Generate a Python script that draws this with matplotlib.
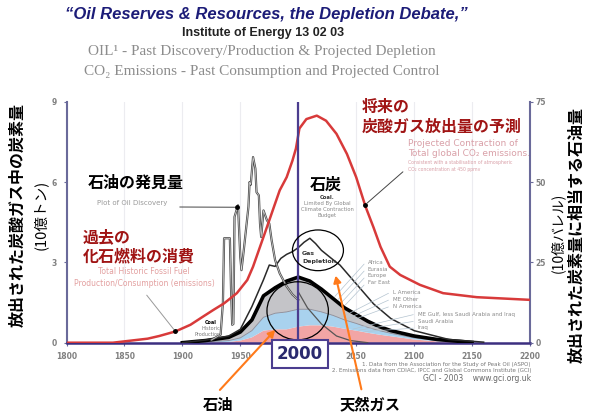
import numpy as np
import matplotlib
matplotlib.use('Agg')
import matplotlib.pyplot as plt
from matplotlib.patches import Ellipse, FancyArrowPatch

JP = ['Noto Sans CJK JP', 'DejaVu Sans']
W, H = 592, 415

# ---------------------------------------------------------------
# DATA (left axis = 10^9 t carbon)
# ---------------------------------------------------------------
co2_years = [1800, 1840, 1850, 1870, 1880, 1894, 1907, 1918, 1927, 1936, 1947,
             1956, 1961, 1967, 1973, 1979, 1984, 1990, 1995, 1998, 2001, 2007,
             2016, 2024, 2033, 2042, 2050, 2058, 2065, 2071, 2079, 2088, 2105,
             2125, 2154, 2200]
co2_vals = [0.0, 0.0, 0.05, 0.15, 0.25, 0.42, 0.67, 0.98, 1.23, 1.47, 1.85,
            2.34, 2.84, 3.58, 4.32, 5.07, 5.69, 6.18, 6.8, 7.25, 8.0, 8.35,
            8.48, 8.29, 7.8, 7.05, 6.18, 5.09, 4.3, 3.58, 2.84, 2.53, 2.16,
            1.85, 1.7, 1.6]

disc_years = [1925, 1933, 1935, 1936, 1941, 1942, 1943, 1944, 1945, 1948, 1950,
              1951, 1953, 1957, 1958, 1959, 1961, 1963, 1964, 1966, 1967, 1968,
              1970, 1973, 1975, 1977, 1980, 1984, 1990, 1995, 2000]
disc_vals = [0.1, 0.3, 1.5, 3.9, 3.9, 2.0, 0.67, 0.7, 4.7, 5.13, 3.2,
             2.71, 3.46, 5.07, 6.0, 5.9, 6.93, 6.5, 5.62, 5.5, 4.45, 3.95,
             4.94, 4.57, 4.45, 3.83, 3.09, 2.59, 2.1, 1.8, 1.6]

prod_years = [1900, 1920, 1940, 1950, 1960, 1970, 1980, 1990, 2000, 2010,
              2020, 2030, 2040, 2050, 2060, 2070, 2080, 2100, 2120, 2150]
oil_me = [0, 0.01, 0.03, 0.08, 0.2, 0.45, 0.5, 0.5, 0.6, 0.65,
          0.65, 0.6, 0.52, 0.45, 0.37, 0.3, 0.24, 0.12, 0.05, 0]
oil_am = [0, 0.02, 0.05, 0.1, 0.25, 0.5, 0.6, 0.65, 0.65, 0.6,
          0.5, 0.42, 0.33, 0.27, 0.2, 0.15, 0.11, 0.06, 0.03, 0]
oil_rest = [0, 0.05, 0.12, 0.22, 0.4, 0.8, 0.95, 1.15, 1.2, 1.05,
            0.85, 0.63, 0.45, 0.33, 0.23, 0.15, 0.1, 0.07, 0.04, 0.01]

gas_years = [1900, 1920, 1940, 1950, 1960, 1970, 1975, 1980, 1985, 1990, 1995,
             2000, 2005, 2010, 2015, 2020, 2030, 2036, 2050, 2065, 2080, 2100,
             2130, 2160]
gas_vals = [0, 0.1, 0.25, 0.5, 1.35, 2.35, 2.9, 2.85, 3.15, 3.3, 3.4,
            3.55, 3.75, 3.9, 3.7, 3.45, 3.1, 2.9, 2.2, 1.45, 0.9, 0.45,
            0.12, 0.02]

dep_years = [2000, 2008, 2020, 2033, 2045, 2060]
dep_vals = [1.9, 1.3, 0.7, 0.25, 0.08, 0.0]

xticks = [1800, 1850, 1900, 1950, 2000, 2050, 2100, 2150, 2200]
xtick_labels = ['1800', '1850', '1900', '1950', '', '2050', '2100', '2150', '2200']
left_ticks = [0, 3, 6, 9]
right_ticks = [0, 25, 50, 75]

regions_top = ['Africa', 'Eurasia', 'Europe', 'Far East']
regions_mid = ['L America', 'ME Other', 'N America']
regions_low = ['ME Gulf, less Saudi Arabia and Iraq', 'Saudi Arabia', 'Iraq']


def pix(x, y):
    return x / W, 1 - y / H


# ---------------------------------------------------------------
# FIGURE
# ---------------------------------------------------------------
fig = plt.figure(figsize=(W / 100, H / 100), dpi=100)
ax = fig.add_axes([66.5 / W, 1 - 342.7 / H, 463.5 / W, 241 / H])
ax.set_xlim(1800, 2200)
ax.set_ylim(0, 9)

for xt in xticks:
    ax.axvline(xt, color='#ececf0', lw=0.8, zorder=0)

# stacked oil production
ax.stackplot(prod_years, oil_me, oil_am, oil_rest,
             colors=['#f2a5a5', '#a9d2ee', '#c4c4c8'], lw=0, zorder=2)
cum1 = np.array(oil_me)
cum2 = cum1 + np.array(oil_am)
total = cum2 + np.array(oil_rest)
ax.plot(prod_years, cum2, color='#8a8a96', lw=0.6, zorder=3)
ax.plot(prod_years, total, color='black', lw=2.6, zorder=4)
ax.plot(gas_years, gas_vals, color='#2a2a2a', lw=1.1, zorder=4)
ax.plot(dep_years, dep_vals, color='#555555', lw=0.9, zorder=4)

# discovery + emissions
ax.plot(disc_years, disc_vals, color='#4a4a4a', lw=1.6, zorder=5)
ax.plot(disc_years, disc_vals, color='#d8d8d8', lw=0.5, zorder=5)
ax.plot(co2_years, co2_vals, color='#d83a3a', lw=1.8, zorder=6)

ax.axvline(2000, color='#4b3d8f', lw=1.6, zorder=7)

# circles
ax.add_patch(Ellipse((2017, 3.45), 44, 1.52, fill=False, ec='black', lw=0.9, zorder=8))
ax.add_patch(Ellipse((1999.5, 1.19), 53, 2.17, fill=False, ec='black', lw=0.9, zorder=8))

# axes styling
ax.spines['top'].set_visible(False)
ax.spines['left'].set_color('#6a6a9a')
ax.spines['left'].set_linewidth(1.5)
ax.spines['right'].set_color('#6a6a9a')
ax.spines['right'].set_linewidth(1.5)
ax.spines['bottom'].set_color('#3c2f80')
ax.spines['bottom'].set_linewidth(1.8)
ax.set_xticks(xticks)
ax.set_xticklabels(xtick_labels)
ax.set_yticks(left_ticks)
ax.tick_params(axis='both', labelsize=5.5, labelcolor='#808080', length=2,
               color='#6a6a9a', pad=5)
for lab in ax.get_xticklabels() + ax.get_yticklabels():
    lab.set_fontweight('bold')

ax2 = ax.twinx()
ax2.set_ylim(0, 75)
ax2.set_yticks(right_ticks)
ax2.tick_params(axis='y', labelsize=5.5, labelcolor='#808080', length=2,
                color='#6a6a9a', pad=2)
for lab in ax2.get_yticklabels():
    lab.set_fontweight('bold')
for s in ax2.spines.values():
    s.set_visible(False)

# ---------------------------------------------------------------
# TITLES
# ---------------------------------------------------------------
fig.text(*pix(266, 15), '\u201cOil Reserves & Resources, the Depletion Debate,\u201d',
         ha='center', va='center', fontsize=12, fontweight='bold', style='italic',
         color='#1c1c78', family='Liberation Sans')
fig.text(*pix(263, 33), 'Institute of Energy 13 02 03', ha='center', va='center',
         fontsize=9, fontweight='bold', color='#222222', family='Liberation Sans')
fig.text(*pix(262, 52), 'OIL\u00b9 - Past Discovery/Production & Projected Depletion',
         ha='center', va='center', fontsize=11, color='#8c8c8c', family='Liberation Serif')
fig.text(*pix(262, 72), 'CO\u2082 Emissions - Past Consumption and Projected Control',
         ha='center', va='center', fontsize=11, color='#8c8c8c', family='Liberation Serif')

# axis labels
fig.text(*pix(18, 215), '放出された炭酸ガス中の炭素量', rotation=90, ha='center',
         va='center', fontsize=11.5, fontweight='bold', family=JP)
fig.text(*pix(40, 215), '(10億トン)', rotation=90, ha='center', va='center',
         fontsize=10.5, family=JP)
fig.text(*pix(576, 235), '放出された炭素量に相当する石油量', rotation=90, ha='center',
         va='center', fontsize=11.5, fontweight='bold', family=JP)
fig.text(*pix(558, 233), '(10億バレル)', rotation=90, ha='center', va='center',
         fontsize=10, family=JP)

# ---------------------------------------------------------------
# ANNOTATIONS
# ---------------------------------------------------------------
fig.text(*pix(88, 183), '石油の発見量', ha='left', va='center', fontsize=11.5,
         fontweight='bold', family=JP)
fig.text(*pix(132, 203), 'Plot of Oil Discovery', ha='center', va='center',
         fontsize=5, color='#9a9a9a')
d_yr = 1947.5
ax.annotate('', xy=(d_yr, np.interp(d_yr, disc_years, disc_vals)), xycoords='data',
            xytext=pix(177, 207), textcoords='figure fraction',
            arrowprops=dict(arrowstyle='-', color='#444444', lw=0.7), zorder=9)
ax.plot(d_yr, np.interp(d_yr, disc_years, disc_vals), 'o', color='black', ms=2.5, zorder=9)

fig.text(*pix(83, 237), '過去の', ha='left', va='center', fontsize=11.5,
         fontweight='bold', color='#a01414', family=JP)
fig.text(*pix(83, 256), '化石燃料の消費', ha='left', va='center', fontsize=11.5,
         fontweight='bold', color='#a01414', family=JP)
fig.text(*pix(144, 271), 'Total Historic Fossil Fuel', ha='center', va='center',
         fontsize=5.5, color='#e3a0a0')
fig.text(*pix(144, 283), 'Production/Consumption (emissions)', ha='center',
         va='center', fontsize=5.5, color='#e3a0a0')
h_yr = 1894
ax.annotate('', xy=(h_yr, np.interp(h_yr, co2_years, co2_vals)), xycoords='data',
            xytext=pix(145, 293), textcoords='figure fraction',
            arrowprops=dict(arrowstyle='-', color='#999999', lw=0.7), zorder=9)
ax.plot(h_yr, np.interp(h_yr, co2_years, co2_vals), 'o', color='black', ms=2.5, zorder=9)

fig.text(*pix(211, 322), 'Coal', ha='center', va='center', fontsize=3.5,
         fontweight='bold')
fig.text(*pix(211, 328), 'Historic', ha='center', va='center', fontsize=3.5,
         color='#777777')
fig.text(*pix(208, 334), 'Production', ha='center', va='center', fontsize=3.5,
         color='#777777')

fig.text(*pix(362, 107), '将来の', ha='left', va='center', fontsize=11.5,
         fontweight='bold', color='#a01414', family=JP)
fig.text(*pix(362, 127), '炭酸ガス放出量の予測', ha='left', va='center', fontsize=11.5,
         fontweight='bold', color='#a01414', family=JP)
fig.text(*pix(408, 143), 'Projected Contraction of', ha='left', va='center',
         fontsize=6.5, color='#d9a0a8')
fig.text(*pix(408, 153), 'Total global CO\u2082 emissions.', ha='left', va='center',
         fontsize=6.5, color='#d9a0a8')
fig.text(*pix(408, 162), 'Consistent with a stabilisation of atmospheric',
         ha='left', va='center', fontsize=3.3, color='#d9a0a8')
fig.text(*pix(408, 169), 'CO\u2082 concentration at 450 ppmv', ha='left', va='center',
         fontsize=3.3, color='#d9a0a8')
p_yr = 2057.6
ax.annotate('', xy=(p_yr, np.interp(p_yr, co2_years, co2_vals)), xycoords='data',
            xytext=pix(405, 170), textcoords='figure fraction',
            arrowprops=dict(arrowstyle='-', color='#444444', lw=0.7), zorder=9)
ax.plot(p_yr, np.interp(p_yr, co2_years, co2_vals), 'o', color='black', ms=2.5, zorder=9)

fig.text(*pix(326, 185), '石炭', ha='center', va='center', fontsize=11.5,
         fontweight='bold', family=JP)
fig.text(*pix(327, 197), 'Coal.', ha='center', va='center', fontsize=3.8,
         fontweight='bold', color='#333333')
for i, line in enumerate(['Limited By Global', 'Climate Contraction', 'Budget']):
    fig.text(*pix(327, 203 + 6 * i), line, ha='center', va='center', fontsize=3.8,
             color='#888888')

fig.text(*pix(302, 253), 'Gas', ha='left', va='center', fontsize=4.5,
         fontweight='bold', color='#333333')
fig.text(*pix(302, 261), 'Depletion', ha='left', va='center', fontsize=4.5,
         fontweight='bold', color='#333333')

# region labels with leader lines
for i, name in enumerate(regions_top):
    y = 262 + 7 * i
    fig.text(*pix(368, y), name, ha='left', va='center', fontsize=4, color='#8a8a8a')
    yr = 2030 + 3 * i
    ax.annotate('', xy=(yr, np.interp(yr, prod_years, total)), xycoords='data',
                xytext=pix(366, y), textcoords='figure fraction',
                arrowprops=dict(arrowstyle='-', color='#b4c4d0', lw=0.5), zorder=9)
for i, name in enumerate(regions_mid):
    y = 292 + 7 * i
    fig.text(*pix(393, y), name, ha='left', va='center', fontsize=4, color='#8a8a8a')
    yr = 2036 + 4 * i
    ax.annotate('', xy=(yr, np.interp(yr, prod_years, cum2)), xycoords='data',
                xytext=pix(391, y), textcoords='figure fraction',
                arrowprops=dict(arrowstyle='-', color='#b4c4d0', lw=0.5), zorder=9)
for i, name in enumerate(regions_low):
    y = 314 + 7 * i
    fig.text(*pix(418, y), name, ha='left', va='center', fontsize=4, color='#8a8a8a')
    yr = 2045 + 5 * i
    ax.annotate('', xy=(yr, np.interp(yr, prod_years, cum1)), xycoords='data',
                xytext=pix(416, y), textcoords='figure fraction',
                arrowprops=dict(arrowstyle='-', color='#b4c4d0', lw=0.5), zorder=9)

# 2000 box
fig.text(*pix(300, 354), '2000', ha='center', va='center', fontsize=12,
         fontweight='bold', color='#2a2a6e',
         bbox=dict(boxstyle='square,pad=0.3', fc='white', ec='#4b3d8f', lw=1.5))

# footnotes
fig.text(*pix(531, 364), '1. Data from the Association for the Study of Peak Oil (ASPO)',
         ha='right', va='center', fontsize=4, color='#777777')
fig.text(*pix(531, 370), '2. Emissions data from CDIAC, IPCC and Global Commons Institute (GCI)',
         ha='right', va='center', fontsize=4, color='#777777')
fig.text(*pix(531, 378), 'GCI - 2003    www.gci.org.uk', ha='right', va='center',
         fontsize=5.5, color='#666666')

# orange pointers
fig.text(*pix(218, 405), '石油', ha='center', va='center', fontsize=11,
         fontweight='bold', family=JP)
fig.text(*pix(370, 405), '天然ガス', ha='center', va='center', fontsize=11,
         fontweight='bold', family=JP)
fig.add_artist(FancyArrowPatch(
    pix(218, 392), pix(277, 328), transform=fig.transFigure,
    arrowstyle='-|>,head_length=4,head_width=2.2', color='#ff7a1a', lw=1.5))
fig.add_artist(FancyArrowPatch(
    pix(362, 392), pix(335, 273), transform=fig.transFigure,
    arrowstyle='-|>,head_length=4,head_width=2.2', color='#ff7a1a', lw=1.5))

fig.savefig('out.png', dpi=100)
